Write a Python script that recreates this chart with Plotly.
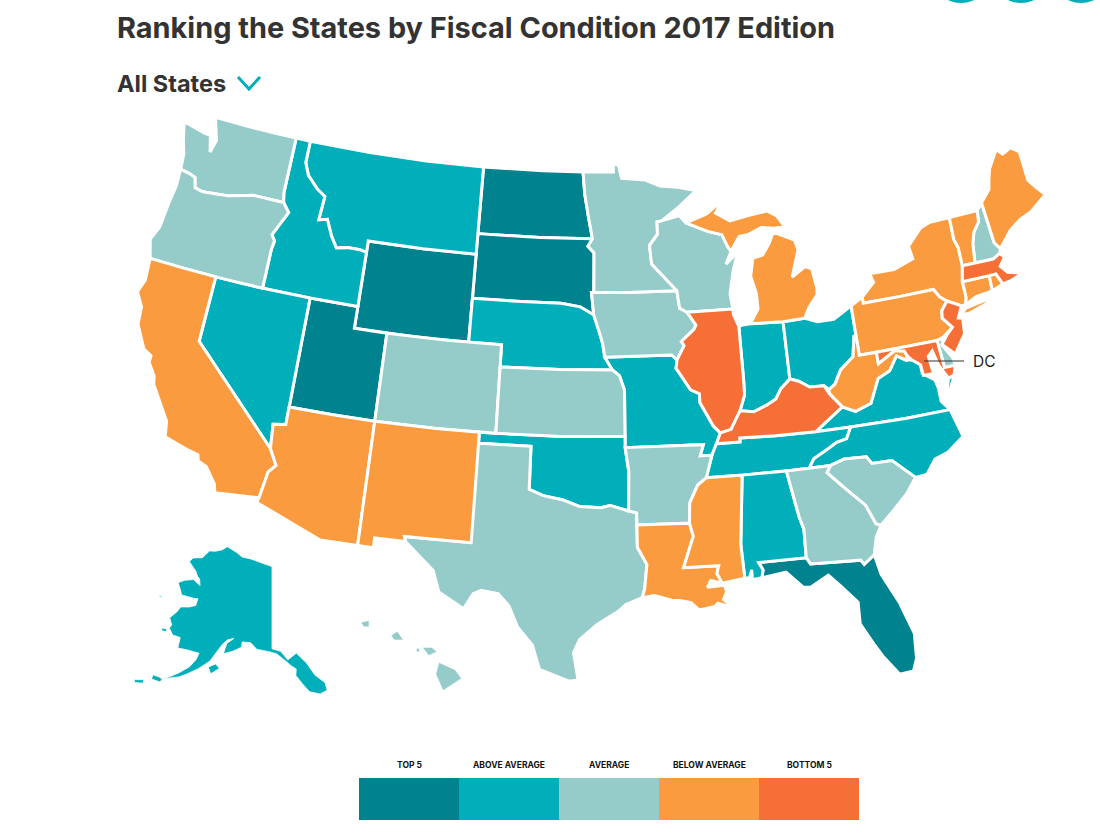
import plotly.graph_objects as go

# ---------- category membership ----------
TOP5 = ["ND", "SD", "WY", "UT", "FL"]
ABOVE = ["MT", "ID", "NV", "NE", "MO", "OK", "IN", "OH", "VA", "NC", "TN", "AL", "AK"]
AVERAGE = ["WA", "OR", "CO", "KS", "TX", "AR", "IA", "MN", "WI", "GA", "SC", "HI", "NH", "DE"]
BELOW = ["CA", "AZ", "NM", "LA", "MS", "MI", "NY", "PA", "WV", "ME", "VT", "CT", "RI"]
BOTTOM = ["IL", "KY", "MA", "NJ", "MD"]
LEGEND_LABELS = ["TOP 5", "ABOVE AVERAGE", "AVERAGE", "BELOW AVERAGE", "BOTTOM 5"]
COLORS = ["#00828f", "#00afb9", "#95cbc9", "#f99b3e", "#f56f37"]
GROUPS = [TOP5, ABOVE, AVERAGE, BELOW, BOTTOM]

# ---------- state outlines (lon, lat), one list per polygon ----------
WA = [[(-124.7,48.4),(-123.1,48.15),(-122.75,48.15),(-122.45,47.4),(-122.25,48.0),(-122.75,49.0),(-120,49),(-118.5,49),(-117.04,49.0),(-117.04,46.42),(-116.92,46.0),(-118.98,46.0),(-119.3,45.93),(-120.5,45.7),(-121.2,45.65),(-122.2,45.57),(-122.75,45.65),(-122.95,46.1),(-123.4,46.2),(-124.0,46.27),(-124.05,46.7),(-124.1,47.0),(-124.4,47.6)]]
OR = [[(-124.0,46.27),(-123.95,45.5),(-124.1,44.6),(-124.2,43.5),(-124.55,42.84),(-124.2,42.0),(-122,42),(-120,42),(-118.5,42),(-117.03,42),(-117.03,43.8),(-116.95,44.2),(-117.2,44.45),(-116.85,45.0),(-116.46,45.6),(-116.92,46.0),(-118.98,46.0),(-119.3,45.93),(-120.5,45.7),(-121.2,45.65),(-122.2,45.57),(-122.75,45.65),(-122.95,46.1),(-123.4,46.2)]]
CA = [[(-124.2,42),(-122,42),(-120,42),(-120,39),(-114.63,35.0),(-114.14,34.3),(-114.5,33.95),(-114.72,32.72),(-117.12,32.53),(-117.25,32.9),(-117.9,33.6),(-118.4,33.75),(-118.5,34.03),(-119.2,34.15),(-120.5,34.45),(-120.65,35.15),(-121.9,36.6),(-122.0,36.95),(-122.5,37.5),(-122.5,37.8),(-123.0,38.0),(-123.75,39.0),(-123.85,39.8),(-124.35,40.4),(-124.1,41.0)]]
NV = [[(-120,42),(-117,42),(-114.04,42),(-114.04,36.2),(-114.75,36.1),(-114.63,35.0),(-120,39)]]
ID = [[(-117.04,49),(-116.05,49),(-116.05,48.0),(-115.7,47.45),(-114.9,46.9),(-114.35,46.65),(-114.45,45.55),(-113.9,45.65),(-113.45,44.95),(-113.0,44.45),(-112.3,44.55),(-111.5,44.55),(-111.05,44.48),(-111.05,42),(-114.04,42),(-117.03,42),(-117.03,43.8),(-116.95,44.2),(-117.2,44.45),(-116.85,45.0),(-116.46,45.6),(-116.92,46.0),(-117.04,46.42)]]
MT = [[(-116.05,49),(-112,49),(-108,49),(-104.05,49),(-104.05,45),(-107.5,45),(-111.05,45),(-111.05,44.48),(-111.5,44.55),(-112.3,44.55),(-113.0,44.45),(-113.45,44.95),(-113.9,45.65),(-114.45,45.55),(-114.35,46.65),(-114.9,46.9),(-115.7,47.45),(-116.05,48.0)]]
WY = [[(-111.05,45),(-107.5,45),(-104.05,45),(-104.05,41),(-107.5,41),(-111.05,41)]]
ND = [[(-104.05,49),(-100,49),(-97.23,49),(-97.1,48.0),(-96.85,47.0),(-96.56,45.94),(-100,45.94),(-104.05,45.94)]]
SD = [[(-104.05,45.94),(-100,45.94),(-96.56,45.94),(-96.85,45.6),(-96.45,45.3),(-96.45,43.5),(-96.6,43.5),(-96.45,42.49),(-97.3,42.85),(-98.5,42.99),(-101,43),(-104.05,43)]]
NE = [[(-104.05,43),(-101,43),(-98.5,42.99),(-97.3,42.85),(-96.45,42.49),(-96.1,41.7),(-95.9,41.2),(-95.77,40.58),(-95.31,40.0),(-98.5,40),(-102.05,40),(-102.05,41),(-104.05,41)]]
CO = [[(-109.05,41),(-105.5,41),(-102.05,41),(-102.05,37),(-105.5,37),(-109.05,37)]]
UT = [[(-114.04,42),(-111.05,42),(-111.05,41),(-109.05,41),(-109.05,37),(-111.5,37),(-114.04,37)]]
AZ = [[(-114.04,37),(-111.5,37),(-109.05,37),(-109.05,31.33),(-111.07,31.33),(-114.8,32.5),(-114.72,32.72),(-114.5,33.95),(-114.14,34.3),(-114.63,35.0),(-114.75,36.1),(-114.04,36.2)]]
NM = [[(-109.05,37),(-105.5,37),(-103,37),(-103,32),(-106.62,32),(-106.53,31.78),(-108.2,31.78),(-108.2,31.33),(-109.05,31.33)]]
TX = [[(-106.62,32),(-103.06,32),(-103.04,36.5),(-100,36.5),(-100,34.56),(-99.2,34.3),(-98.1,34.13),(-97.2,33.85),(-96,33.8),(-95.5,33.9),(-94.48,33.64),(-94.04,33.55),(-94.04,33.0),(-94.04,31.99),(-93.55,31.2),(-93.7,30.1),(-93.84,29.7),(-94.7,29.4),(-95.1,29.1),(-96.2,28.5),(-97.1,27.8),(-97.4,27.2),(-97.15,25.96),(-97.6,25.9),(-99.1,26.4),(-99.5,27.5),(-100.3,28.3),(-100.8,29.25),(-101.4,29.77),(-102.3,29.88),(-102.7,29.7),(-103.15,28.98),(-104.5,29.65),(-104.9,30.6),(-106.53,31.78)]]
OK = [[(-100,36.5),(-103,36.5),(-103,37),(-98.5,37),(-94.62,37),(-94.62,36.5),(-94.43,35.4),(-94.48,33.64),(-95.5,33.9),(-96,33.8),(-97.2,33.85),(-98.1,34.13),(-99.2,34.3),(-100,34.56)]]
KS = [[(-102.05,40),(-98.5,40),(-95.31,40),(-94.9,39.75),(-94.61,39.1),(-94.62,37),(-98.5,37),(-102.05,37)]]
MO = [[(-95.77,40.58),(-91.73,40.61),(-91.42,40.38),(-91.5,40.0),(-90.7,39.0),(-90.2,38.8),(-90.2,38.4),(-89.5,37.3),(-89.13,36.98),(-89.4,36.5),(-89.7,36.0),(-90.37,36.0),(-90.15,36.5),(-94.62,36.5),(-94.62,37),(-94.61,39.1),(-94.9,39.75),(-95.31,40)]]
AR = [[(-94.62,36.5),(-90.15,36.5),(-90.37,36),(-89.7,36),(-90.1,35.0),(-90.6,34.7),(-91.1,33.9),(-91.17,33.0),(-94.04,33.0),(-94.04,33.55),(-94.48,33.64),(-94.43,35.4)]]
LA = [[(-94.04,33),(-91.17,33),(-91.0,32.4),(-91.6,31.0),(-89.73,31.0),(-89.85,30.65),(-89.6,30.2),(-90.2,30.35),(-90.4,30.05),(-89.5,30.1),(-89.4,29.8),(-89.6,29.45),(-89.1,29.05),(-89.9,29.3),(-90.1,29.15),(-90.9,29.05),(-91.3,29.4),(-91.8,29.5),(-92.3,29.55),(-93.2,29.78),(-93.84,29.7),(-93.7,30.1),(-93.55,31.2),(-94.04,31.99)]]
MS = [[(-90.1,35.0),(-88.2,35.0),(-88.1,34.9),(-88.47,31.9),(-88.4,30.35),(-89.6,30.2),(-89.85,30.65),(-89.73,31),(-91.6,31),(-91.0,32.4),(-91.17,33),(-91.1,33.9),(-90.6,34.7)]]
AL = [[(-88.2,35),(-85.6,35),(-85.18,32.87),(-85.0,32.3),(-85.05,31.0),(-87.6,31.0),(-87.4,30.65),(-87.5,30.3),(-88.0,30.25),(-88.0,30.7),(-88.15,30.35),(-88.4,30.35),(-88.47,31.9),(-88.1,34.9)]]
GA = [[(-85.6,35),(-84.32,35),(-83.1,35),(-83.35,34.7),(-82.6,34.0),(-81.5,33.0),(-81.1,32.1),(-80.85,32.0),(-81.2,31.5),(-81.45,30.72),(-82.05,30.36),(-82.2,30.57),(-84.86,30.7),(-85.05,31),(-85,32.3),(-85.18,32.87)]]
FL = [[(-87.6,31),(-85.05,31),(-84.86,30.7),(-82.2,30.57),(-82.05,30.36),(-81.45,30.72),(-81.25,29.8),(-80.55,28.4),(-80.05,26.9),(-80.15,25.75),(-80.4,25.2),(-81.1,25.15),(-81.8,26.1),(-82.15,26.7),(-82.7,27.7),(-82.65,28.7),(-83.4,29.5),(-84.0,30.1),(-85.0,29.65),(-85.4,29.7),(-86.2,30.45),(-87.5,30.3),(-87.4,30.65)]]
SC = [[(-83.1,35),(-82.3,35.2),(-81.05,35.15),(-80.8,34.82),(-79.67,34.8),(-78.55,33.86),(-79.2,33.2),(-80.0,32.6),(-80.85,32.0),(-81.1,32.1),(-81.5,33),(-82.6,34),(-83.35,34.7)]]
NC = [[(-84.32,35),(-83.1,35),(-82.3,35.2),(-81.05,35.15),(-80.8,34.82),(-79.67,34.8),(-78.55,33.86),(-77.9,33.9),(-77.3,34.5),(-76.5,34.7),(-75.5,35.25),(-75.9,36.55),(-78.5,36.55),(-81.68,36.59),(-82,36.1),(-82.6,36),(-83.1,35.77),(-84,35.4)]]
TN = [[(-90.1,35),(-89.7,36),(-89.4,36.5),(-88.05,36.5),(-88.05,36.68),(-86,36.63),(-83.68,36.6),(-81.68,36.59),(-82,36.1),(-82.6,36),(-83.1,35.77),(-84,35.4),(-84.32,35),(-85.6,35),(-88.2,35)]]
KY = [[(-89.4,36.5),(-89.13,36.98),(-88.5,37.1),(-87.9,37.9),(-87.1,37.8),(-86.3,38.05),(-85.75,38.27),(-85.4,38.7),(-84.8,39.1),(-84.3,38.95),(-83.7,38.63),(-82.85,38.6),(-82.6,38.2),(-81.97,37.54),(-83.68,36.6),(-86,36.63),(-88.05,36.68),(-88.05,36.5)]]
VA = [[(-83.68,36.6),(-81.68,36.59),(-78.5,36.55),(-75.9,36.55),(-76.3,37.0),(-76.3,37.6),(-76.4,38.0),(-77.05,38.4),(-77.05,38.8),(-77.5,39.1),(-77.83,39.13),(-78.35,39.4),(-78.9,38.8),(-79.65,38.55),(-80.3,37.5),(-81.25,37.25),(-81.97,37.54)],
      [(-75.95,37.15),(-75.6,37.95),(-75.25,38.03),(-75.6,37.5)]]
WV = [[(-81.97,37.54),(-82.6,38.2),(-82.6,38.4),(-82.2,38.6),(-81.75,39.2),(-80.9,39.7),(-80.65,40.6),(-80.52,40.64),(-80.52,39.72),(-79.48,39.72),(-79.48,39.2),(-78.4,39.65),(-77.83,39.55),(-77.72,39.32),(-77.83,39.13),(-78.35,39.4),(-78.9,38.8),(-79.65,38.55),(-80.3,37.5),(-81.25,37.25)]]
MD = [[(-79.48,39.72),(-75.79,39.72),(-75.7,38.46),(-75.05,38.45),(-75.25,38.03),(-75.6,37.95),(-76.0,38.6),(-76.2,39.3),(-76.5,39.1),(-76.4,38.3),(-77.0,38.3),(-77.05,38.8),(-77.5,39.1),(-77.72,39.32),(-77.83,39.55),(-78.4,39.65),(-79.48,39.2)]]
DE = [[(-75.79,39.72),(-75.4,39.8),(-75.55,39.45),(-75.1,38.8),(-75.05,38.45),(-75.7,38.46)]]
PA = [[(-80.52,40.64),(-80.52,41.98),(-79.76,42.27),(-79.76,42),(-77.5,42),(-75.35,42),(-75.07,41.6),(-74.7,41.36),(-75.13,40.98),(-75.2,40.65),(-74.72,40.15),(-75.4,39.8),(-75.79,39.72),(-78,39.72),(-80.52,39.72)]]
NJ = [[(-74.7,41.36),(-73.9,41.0),(-74.25,40.5),(-74.0,40.45),(-74.1,39.75),(-74.9,38.95),(-75.55,39.5),(-75.1,39.9),(-74.72,40.15),(-75.2,40.65),(-75.13,40.98)]]
NY = [[(-79.76,42),(-79.76,42.27),(-78.9,42.85),(-79.05,43.27),(-77.5,43.25),(-76.2,43.55),(-76.3,44.15),(-75.3,44.85),(-74.7,45.0),(-73.35,45.01),(-73.4,44),(-73.25,43.6),(-73.27,42.75),(-73.5,42.05),(-73.5,41.3),(-73.65,41.0),(-73.9,41.0),(-74.7,41.36),(-75.07,41.6),(-75.35,42),(-77.5,42)],
      [(-74.0,40.6),(-73.7,40.85),(-72.6,40.97),(-71.9,41.07),(-72.5,40.8),(-73.5,40.6)]]
VT = [[(-73.35,45.01),(-71.5,45.01),(-71.6,44.5),(-72.05,44.1),(-72.3,43.6),(-72.46,42.73),(-73.27,42.75),(-73.25,43.6),(-73.4,44)]]
NH = [[(-71.5,45.01),(-71.1,45.3),(-70.98,43.4),(-70.7,43.07),(-70.82,42.87),(-71.3,42.7),(-72.46,42.73),(-72.3,43.6),(-72.05,44.1),(-71.6,44.5)]]
ME = [[(-71.1,45.3),(-70.4,45.8),(-70.25,46.2),(-70.0,46.7),(-69.23,47.46),(-68.9,47.18),(-68.3,47.35),(-67.8,47.07),(-67.8,45.7),(-67.45,45.3),(-67.0,44.85),(-68.2,44.3),(-69.0,44.1),(-69.8,43.75),(-70.7,43.07),(-70.98,43.4)]]
MA = [[(-73.5,42.05),(-73.27,42.75),(-72.46,42.73),(-71.3,42.7),(-70.82,42.87),(-70.6,42.65),(-71.0,42.3),(-70.65,41.95),(-70.0,41.8),(-70.2,42.08),(-69.95,41.7),(-70.6,41.55),(-71.12,41.5),(-71.38,42.02),(-71.8,42.02)]]
RI = [[(-71.8,42.02),(-71.38,42.02),(-71.12,41.5),(-71.85,41.32)]]
CT = [[(-73.5,42.05),(-71.8,42.02),(-71.85,41.32),(-72.9,41.25),(-73.65,41.0),(-73.5,41.3)]]
OH = [[(-84.8,39.1),(-84.8,41.7),(-83.45,41.73),(-82.7,41.5),(-81.7,41.5),(-80.52,41.98),(-80.52,40.64),(-80.65,40.6),(-80.9,39.7),(-81.75,39.2),(-82.2,38.6),(-82.6,38.4),(-82.85,38.6),(-83.7,38.63),(-84.3,38.95)]]
IN = [[(-87.53,41.7),(-87.2,41.75),(-86.8,41.76),(-84.8,41.7),(-84.8,39.1),(-85.4,38.7),(-85.75,38.27),(-86.3,38.05),(-87.1,37.8),(-87.9,37.9),(-87.55,38.6),(-87.53,39.35)]]
IL = [[(-87.53,41.7),(-87.53,39.35),(-87.55,38.6),(-87.9,37.9),(-88.5,37.1),(-89.13,36.98),(-89.5,37.3),(-90.2,38.4),(-90.2,38.8),(-90.7,39.0),(-91.5,40),(-91.42,40.38),(-90.95,41.0),(-91.1,41.2),(-90.3,41.7),(-90.15,41.9),(-90.65,42.5),(-87.8,42.5),(-87.8,42.25)]]
IA = [[(-96.45,42.49),(-96.6,43.5),(-94,43.5),(-91.22,43.5),(-91.1,42.7),(-90.65,42.5),(-90.15,41.9),(-90.3,41.7),(-91.1,41.2),(-90.95,41.0),(-91.42,40.38),(-91.73,40.61),(-95.77,40.58),(-95.9,41.2),(-96.1,41.7)]]
MN = [[(-97.23,49),(-95.15,49),(-95.15,49.38),(-94.8,49.3),(-94.6,48.7),(-93.0,48.6),(-92,48.3),(-90.8,48.2),(-89.6,48.0),(-90.8,47.3),(-92.0,46.7),(-92.3,46.66),(-92.3,46.1),(-92.85,45.6),(-92.75,44.75),(-91.22,43.5),(-94,43.5),(-96.45,43.5),(-96.45,45.3),(-96.85,45.6),(-96.56,45.94),(-96.85,47),(-97.1,48)]]
WI = [[(-92.0,46.7),(-90.8,46.9),(-90.4,46.55),(-89.0,46.1),(-88.1,45.9),(-87.8,45.35),(-87.6,45.1),(-88.0,44.55),(-87.4,44.9),(-87.05,45.25),(-87.55,44.3),(-87.9,43.2),(-87.8,42.5),(-90.65,42.5),(-91.1,42.7),(-91.22,43.5),(-92.75,44.75),(-92.85,45.6),(-92.3,46.1),(-92.3,46.66)]]
MI = [[(-86.8,41.76),(-84.8,41.7),(-83.45,41.73),(-83.1,42.2),(-82.5,42.7),(-82.45,43.0),(-82.6,43.9),(-83.0,44.05),(-83.9,43.65),(-83.3,44.85),(-83.45,45.3),(-84.75,45.78),(-85.1,45.3),(-85.6,44.8),(-86.25,44.7),(-86.5,43.9),(-86.25,43.1),(-86.25,42.4)],
      [(-90.4,46.55),(-89.0,46.9),(-87.9,47.45),(-88.4,46.9),(-87.5,46.5),(-86.2,46.67),(-85.0,46.77),(-84.4,46.5),(-84.0,46.0),(-84.7,45.95),(-85.5,46.05),(-86.4,45.8),(-87.0,45.75),(-87.6,45.1),(-87.8,45.35),(-88.1,45.9),(-89,46.1)]]
AK = [[(-141,69.65),(-144,70),(-148,70.4),(-151,70.5),(-153,70.9),(-156.6,71.35),(-158,70.85),(-160,70.5),(-162,70.3),(-163.5,69.3),(-166.2,68.9),(-166.8,68.35),(-164,67.6),(-163,67.1),(-162.2,66.9),(-161.5,66.2),(-163.8,66.6),(-166,66.2),(-167.5,65.65),(-166.2,65.0),(-165.4,64.5),(-162,64.6),(-161,64.7),(-161,63.9),(-162.5,63.5),(-164.5,63.2),(-165,62.5),(-166.1,61.6),(-165,60.9),(-165.3,60.5),(-164,59.9),(-162.2,59.9),(-162,58.7),(-160,58.8),(-158.5,58.8),(-157.2,58.8),(-157.5,58.0),(-158.5,57.0),(-160.3,56.0),(-162,55.2),(-163.5,54.85),(-162,55.1),(-160,55.6),(-158.5,56.2),(-156.5,57.1),(-154.5,58.2),(-153.5,59.3),(-152.5,60.3),(-151.5,60.9),(-150,61.2),(-151.5,60.5),(-151.9,59.3),(-150,59.7),(-148,60.3),(-148,60.9),(-146,60.9),(-144.5,60.2),(-142,60.0),(-140,59.75),(-138,58.9),(-136.8,58.3),(-135.8,57.9),(-136,57.2),(-134.8,56.2),(-133.5,55.2),(-131.5,54.8),(-130,55.1),(-130.2,56),(-132,57),(-133.5,58.5),(-135.5,59.7),(-137.5,59),(-139,60),(-141,60.3),(-141,65)],
      [(-154.6,57.5),(-153.2,58.0),(-152.2,57.6),(-153.8,56.8)],
      [(-166.8,60.2),(-165.8,60.3),(-165.6,60.0),(-166.8,59.9)],
      [(-170.6,63.5),(-170,63.5),(-170,63.35),(-170.6,63.35)],
      [(-165,54.9),(-163,54.9),(-163.2,54.4),(-165,54.4)],
      [(-168,53.6),(-166.3,54.0),(-166.2,53.6),(-167.8,53.3)]]
HI = [[(-155.9,20.25),(-155.1,19.9),(-154.8,19.5),(-155.7,18.95),(-156.05,19.7)],
      [(-156.7,20.95),(-156.25,20.95),(-156.0,20.75),(-156.4,20.58)],
      [(-157.0,20.9),(-156.85,20.9),(-156.85,20.75),(-157.0,20.75)],
      [(-158.25,21.5),(-157.95,21.7),(-157.65,21.3),(-158.1,21.3)],
      [(-159.75,22.1),(-159.35,22.2),(-159.35,21.9),(-159.6,21.9)]]

SHAPES = dict(WA=WA, OR=OR, CA=CA, NV=NV, ID=ID, MT=MT, WY=WY, ND=ND, SD=SD, NE=NE, CO=CO, UT=UT, AZ=AZ, NM=NM, TX=TX,
              OK=OK, KS=KS, MO=MO, AR=AR, LA=LA, MS=MS, AL=AL, GA=GA, FL=FL, SC=SC, NC=NC, TN=TN, KY=KY, VA=VA, WV=WV,
              MD=MD, DE=DE, PA=PA, NJ=NJ, NY=NY, VT=VT, NH=NH, ME=ME, MA=MA, RI=RI, CT=CT, OH=OH, IN=IN, IL=IL, IA=IA,
              MN=MN, WI=WI, MI=MI, AK=AK, HI=HI)
SUBPLOT = dict(AK="geo2", HI="geo3")
WIDTH = dict(AK=0.8, HI=0.5)

W, H = 1100, 836


def px(x):
    return x / W


def py(y):
    return 1 - y / H


def clockwise(ring):
    area = sum(a[0] * b[1] - b[0] * a[1] for a, b in zip(ring, ring[1:] + ring[:1]))
    return ring[::-1] if area > 0 else ring


fig = go.Figure()
for color, group in zip(COLORS, GROUPS):
    for code in group:
        lon, lat = [], []
        for ring in SHAPES[code]:
            r = clockwise(ring)
            r = r + r[:1]
            lon += [p[0] for p in r] + [None]
            lat += [p[1] for p in r] + [None]
        fig.add_trace(go.Scattergeo(lon=lon[:-1], lat=lat[:-1], mode="lines", fill="toself", fillcolor=color,
                                    line=dict(color="white", width=WIDTH.get(code, 3)), name=code, hoverinfo="name",
                                    showlegend=False, geo=SUBPLOT.get(code, "geo")))


def geo_layout(x0, x1, y0, y1, lon, parallels, lons, lats, scale):
    return dict(projection=dict(type="albers", rotation=dict(lon=lon), parallels=parallels, scale=scale),
                center=dict(lon=lon, lat=(lats[0] + lats[1]) / 2), bgcolor="rgba(0,0,0,0)",
                showland=False, showlakes=False, showcoastlines=False, showocean=False, showrivers=False,
                showsubunits=False, showcountries=False, showframe=False,
                lonaxis=dict(showgrid=False, range=lons), lataxis=dict(showgrid=False, range=lats),
                domain=dict(x=[px(x0), px(x1)], y=[py(y1), py(y0)]))


FONT = "Inter"
ann = [
    dict(text="<b>Ranking the States by Fiscal Condition 2017 Edition</b>", x=115, y=27, font=dict(size=28.9, color="#333333", family=FONT)),
    dict(text="<b>All States</b>", x=115, y=83, font=dict(size=23.5, color="#333333", family=FONT)),
    dict(text="DC", x=971, y=361, font=dict(size=15.5, color="#222222", family=FONT)),
]
for i, lab in enumerate(LEGEND_LABELS):
    ann.append(dict(text="<b>%s</b>" % lab, x=409 + 100 * i, y=765, xanchor="center",
                    font=dict(size=8.5, color="#111111", family=FONT)))
annotations = []
for a in ann:
    a.setdefault("xanchor", "left")
    annotations.append(dict(a, xref="paper", yref="paper", x=px(a["x"]), y=py(a["y"]), yanchor="middle", showarrow=False))

shapes = []
for i, c in enumerate(COLORS):
    shapes.append(dict(type="rect", xref="paper", yref="paper", x0=px(359 + 100 * i), x1=px(459 + 100 * i),
                       y0=py(820), y1=py(778), fillcolor=c, line_width=0))
shapes.append(dict(type="line", xref="paper", yref="paper", x0=px(924), x1=px(964), y0=py(361), y1=py(361),
                   line=dict(color="#333333", width=1)))
shapes.append(dict(type="path", xref="paper", yref="paper", line=dict(color="#00afb9", width=3),
                   path="M %f %f L %f %f L %f %f" % (px(238), py(77), px(249), py(89), px(260), py(77))))
for cx in (961, 1021, 1081):
    shapes.append(dict(type="circle", xref="paper", yref="paper", x0=px(cx - 30), x1=px(cx + 30),
                       y0=py(3), y1=py(-57), fillcolor="#00afb9", line_width=0))

fig.update_layout(width=W, height=H, margin=dict(l=0, r=0, t=0, b=0), paper_bgcolor="white",
                  geo=geo_layout(102, 1100, 35, 794, -96, [29.5, 45.5], [-126, -66], [18, 58], 1.286),
                  geo2=geo_layout(0, 544, 436, 836, -141, [55, 65], [-172, -128], [51, 72.5], 0.52),
                  geo3=geo_layout(355, 478, 610, 700, -157, [8, 18], [-160.5, -154.5], [18.7, 22.5], 1.0),
                  annotations=annotations, shapes=shapes)
fig.write_html("out.html", config=dict(displayModeBar=False), post_script="document.body.style.margin='0';")
